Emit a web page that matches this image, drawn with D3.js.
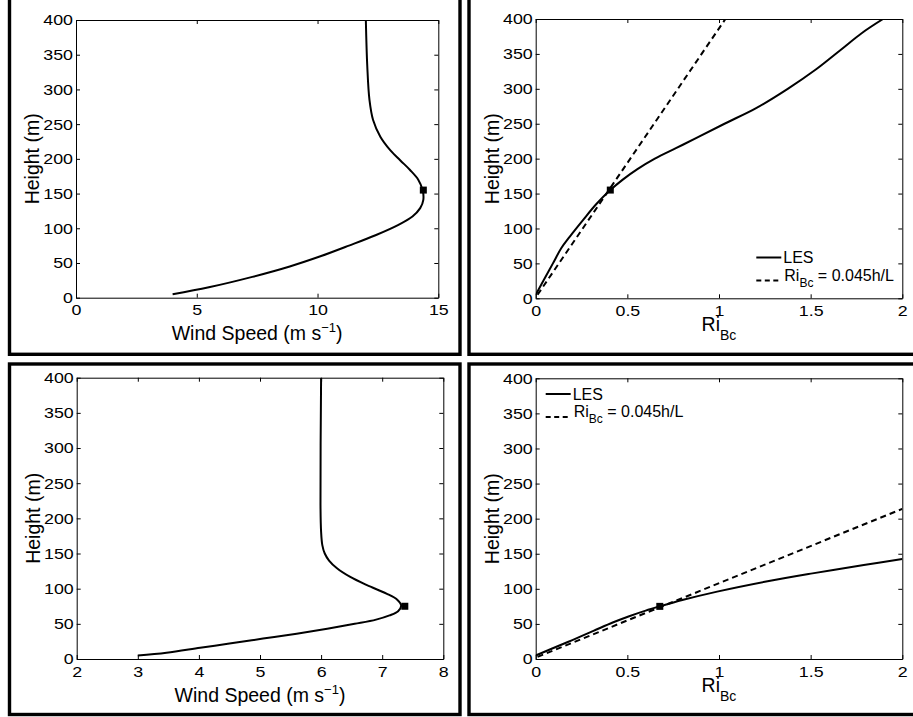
<!DOCTYPE html>
<html>
<head>
<meta charset="utf-8">
<script src="https://cdn.jsdelivr.net/npm/d3@7"></script>
<style>
body { margin: 0; background: #fff; }
svg { display: block; font-family: "Liberation Sans", Arial, Helvetica, sans-serif; }
</style>
</head>
<body>
<div id="fig"></div>
<script>
// ticks
var heightTicks = [0, 50, 100, 150, 200, 250, 300, 350, 400];
var windTicksA = [0, 5, 10, 15];
var windTicksC = [2, 3, 4, 5, 6, 7, 8];
var riTicks = [0, 0.5, 1, 1.5, 2];

// top left - wind profile
var heightA = [5, 15, 30, 45, 60, 75, 90, 105, 117, 129, 141, 155, 170, 184, 198, 213, 232, 256, 285, 333, 400];
var windA = [4.0, 5.5, 7.3, 8.85, 10.15, 11.3, 12.4, 13.35, 13.93, 14.25, 14.38, 14.35, 14.17, 13.83, 13.42, 13.0, 12.6, 12.3, 12.15, 12.06, 12.0];
var peakA = [14.38, 155];

// top right - RiBc
var heightB = [5, 29, 50, 72, 88, 112, 135, 155, 170, 185, 200, 215, 230, 250, 272, 300, 328, 356, 380, 400];
var riB = [0.0, 0.05, 0.094, 0.14, 0.185, 0.258, 0.331, 0.407, 0.475, 0.555, 0.65, 0.765, 0.88, 1.03, 1.2, 1.375, 1.53, 1.665, 1.78, 1.895];
var riFitB = [0.01, 1.035];
var heightFitB = [5, 400];
var peakB = [0.407, 155];

// bottom left - wind profile
var heightC = [5, 9, 16, 22, 29, 36, 43, 50, 56, 62, 68, 76, 84, 93, 105, 117, 129, 140, 150, 162, 181, 219, 400];
var windC = [3.0, 3.47, 4.02, 4.5, 5.05, 5.6, 6.1, 6.55, 6.9, 7.12, 7.26, 7.31, 7.25, 7.07, 6.75, 6.47, 6.26, 6.13, 6.06, 6.02, 6.0, 5.99, 6.0];
var peakC = [7.37, 75];

// bottom right - RiBc
var heightD = [5, 15, 27, 40, 52, 61, 69, 75, 84, 96, 110, 122, 134, 142.5];
var riD = [0, 0.09, 0.2, 0.315, 0.42, 0.51, 0.6, 0.677, 0.8, 0.99, 1.25, 1.51, 1.79, 2.0];
var riFitD = [0.01, 2.0];
var heightFitD = [3, 214];
var peakD = [0.677, 75];

var svg = d3
.select('#fig')
.append('svg')
.attr('width', 913)
.attr('height', 717)
;

// panel frames
var frames = [
    {x1: 9.5, x2: 460, y1: -10, y2: 354.3},
    {x1: 469, x2: 930, y1: -10, y2: 354.3},
    {x1: 9.5, x2: 460, y1: 364, y2: 714.5},
    {x1: 469, x2: 930, y1: 364, y2: 714.5}
];

svg.selectAll('rect.frame')
.data(frames)
.enter()
.append('rect')
.attr('class', 'frame')
.attr('x', function(d){return d.x1})
.attr('y', function(d){return d.y1})
.attr('width', function(d){return d.x2 - d.x1})
.attr('height', function(d){return d.y2 - d.y1})
.attr('fill', 'none')
.attr('stroke', 'black')
.attr('stroke-width', 3.4)
;

function drawPanel(p) {
    var x = d3.scaleLinear().domain(p.xDomain).range([p.left, p.right]);
    var y = d3.scaleLinear().domain([0, 400]).range([p.bottom, p.top]);

    var g = svg.append('g').attr('id', p.id);

    g.append('clipPath')
    .attr('id', p.id + '_clip')
    .append('rect')
    .attr('x', p.left)
    .attr('y', p.top)
    .attr('width', p.right - p.left)
    .attr('height', p.bottom - p.top)
    ;

    // axes, ticks inward on all four sides
    g.append('g')
    .attr('transform', 'translate(0,' + p.bottom + ')')
    .call(d3.axisBottom(x).tickValues(p.xTicks).tickSizeInner(-4).tickSizeOuter(0).tickPadding(6.5)
        .tickFormat(function(d){return String(d)}));
    g.append('g')
    .attr('transform', 'translate(0,' + p.top + ')')
    .call(d3.axisTop(x).tickValues(p.xTicks).tickSizeInner(-4).tickSizeOuter(0).tickFormat(''));
    g.append('g')
    .attr('transform', 'translate(' + p.left + ',0)')
    .call(d3.axisLeft(y).tickValues(heightTicks).tickSizeInner(-4).tickSizeOuter(0).tickPadding(2.6));
    g.append('g')
    .attr('transform', 'translate(' + p.right + ',0)')
    .call(d3.axisRight(y).tickValues(heightTicks).tickSizeInner(-4).tickSizeOuter(0).tickFormat(''));

    // tick labels are a bit wide in the original
    g.selectAll('.tick text')
    .attr('font-size', 15.5)
    .attr('font-family', '"Liberation Sans", Arial, sans-serif')
    .attr('fill', 'black')
    .attr('transform', 'scale(1.15,1)')
    ;
    g.selectAll('.domain, .tick line')
    .attr('stroke', 'black')
    .attr('stroke-width', 1)
    ;

    var line = d3.line()
    .x(function(d){return x(d[0])})
    .y(function(d){return y(d[1])})
    .curve(d3.curveCatmullRom.alpha(0.5))
    ;

    var plot = g.append('g').attr('clip-path', 'url(#' + p.id + '_clip)');

    if (p.fit) {
        plot.append('path')
        .datum(d3.zip(p.fit[0], p.fit[1]))
        .attr('d', d3.line().x(function(d){return x(d[0])}).y(function(d){return y(d[1])}))
        .attr('fill', 'none')
        .attr('stroke', 'black')
        .attr('stroke-width', 2)
        .attr('stroke-dasharray', '6,4')
        ;
    }

    plot.append('path')
    .datum(d3.zip(p.xs, p.ys))
    .attr('d', line)
    .attr('fill', 'none')
    .attr('stroke', 'black')
    .attr('stroke-width', 2)
    ;

    g.append('rect')
    .attr('x', x(p.peak[0]) - 3.5)
    .attr('y', y(p.peak[1]) - 3.5)
    .attr('width', 7)
    .attr('height', 7)
    .attr('fill', 'black')
    ;

    // y label
    g.append('text')
    .attr('transform', 'translate(' + (p.left - 37) + ',' + ((p.top + p.bottom) / 2) + ') rotate(-90)')
    .attr('text-anchor', 'middle')
    .attr('font-size', 19.5)
    .text('Height (m)')
    ;

    // x label
    var xl = g.append('text')
    .attr('x', (p.left + p.right) / 2)
    .attr('text-anchor', 'middle')
    .attr('font-size', 19.5)
    ;
    if (p.kind === 'wind') {
        xl.attr('y', p.bottom + 42.5);
        xl.append('tspan').text('Wind Speed (m s');
        xl.append('tspan').attr('font-size', 13).attr('dy', -8).text('\u22121');
        xl.append('tspan').attr('dy', 8).text(')');
    } else {
        xl.attr('y', p.bottom + 32.7);
        xl.append('tspan').text('Ri');
        xl.append('tspan').attr('font-size', 14).attr('dy', 9).text('Bc');
    }

    // legend
    if (p.legend) {
        var lg = g.append('g').attr('font-size', 16);
        var lx = p.left + p.legend[0];
        var ly = p.top + p.legend[1];
        lg.append('line')
        .attr('x1', lx).attr('x2', lx + 25)
        .attr('y1', ly).attr('y2', ly)
        .attr('stroke', 'black').attr('stroke-width', 2)
        ;
        lg.append('text')
        .attr('x', lx + 27).attr('y', ly + 5.8)
        .text('LES')
        ;
        lg.append('line')
        .attr('x1', lx).attr('x2', lx + 25)
        .attr('y1', ly + 23).attr('y2', ly + 23)
        .attr('stroke', 'black').attr('stroke-width', 2)
        .attr('stroke-dasharray', '5,3.5')
        ;
        var lt = lg.append('text')
        .attr('x', lx + 28).attr('y', ly + 23)
        ;
        lt.append('tspan').text('Ri');
        lt.append('tspan').attr('font-size', 12).attr('dy', 6).text('Bc');
        lt.append('tspan').attr('dy', -6).text(' = 0.045h/L');
    }
}

drawPanel({id: 'pA', kind: 'wind', left: 76, right: 438.3, top: 20, bottom: 297.7,
    xDomain: [0, 15], xTicks: windTicksA, xs: windA, ys: heightA, peak: peakA});
drawPanel({id: 'pB', kind: 'ri', left: 535.7, right: 902.3, top: 19, bottom: 298.3,
    xDomain: [0, 2], xTicks: riTicks, xs: riB, ys: heightB, peak: peakB,
    fit: [riFitB, heightFitB], legend: [220.6, 238.5]});
drawPanel({id: 'pC', kind: 'wind', left: 76.7, right: 443.3, top: 377.7, bottom: 659,
    xDomain: [2, 8], xTicks: windTicksC, xs: windC, ys: heightC, peak: peakC});
drawPanel({id: 'pD', kind: 'ri', left: 535.7, right: 902.3, top: 378.3, bottom: 659,
    xDomain: [0, 2], xTicks: riTicks, xs: riD, ys: heightD, peak: peakD,
    fit: [riFitD, heightFitD], legend: [10, 15.7]});
</script>
</body>
</html>
